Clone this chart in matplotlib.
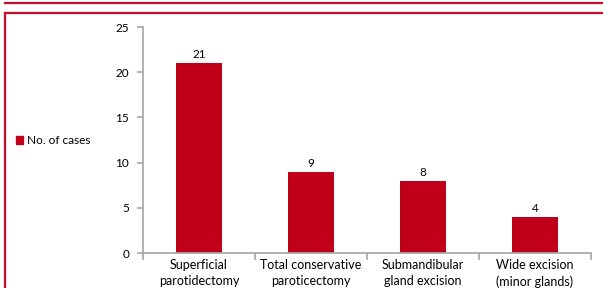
import numpy as np
from matplotlib import pyplot as plt
from matplotlib.lines import Line2D
from matplotlib.patches import Rectangle

# data
categories = ['Superficial\nparotidectomy', 'Total conservative\nparoticectomy',
              'Submandibular\ngland excision', 'Wide excision\n(minor glands)']
cases = [21, 9, 8, 4]
series_name = 'No. of cases'

bar_color = '#C00018'
frame_color = '#C8102E'
axis_color = '#A6A6A6'

plt.rcParams['font.family'] = ['Lato', 'DejaVu Sans']
plt.rcParams['font.size'] = 8

fig = plt.figure(figsize=(6.03, 2.88), dpi=100)
W, H = 603, 288
ax = fig.add_axes([143 / W, 1 - 253 / H, 448 / W, (253 - 27) / H])

index = np.arange(len(cases))
ax.bar(index, cases, 0.41, color=bar_color)
for i, v in zip(index, cases):
    ax.text(i, v + 0.3, str(v), ha='center', va='bottom', fontsize=8.5)

ax.set_xlim(-0.5, len(cases) - 0.5)
ax.set_ylim(0, 25)
ax.set_yticks([0, 5, 10, 15, 20, 25])
ax.set_xticks(index)
ax.set_xticklabels(categories, linespacing=1.45, fontsize=9)
ax.set_xticks(np.arange(len(cases) + 1) - 0.5, minor=True)
ax.tick_params(axis='x', which='major', length=0, pad=4)
ax.tick_params(axis='x', which='minor', length=5, color=axis_color, width=1.2)
ax.tick_params(axis='y', length=4, color=axis_color, width=1.2, pad=6, labelsize=8.5)

for s in ['top', 'right']:
    ax.spines[s].set_visible(False)
for s in ['left', 'bottom']:
    ax.spines[s].set_color(axis_color)
    ax.spines[s].set_linewidth(1.2)

# legend
fig.patches.append(Rectangle((16 / W, 1 - 144 / H), 7 / W, 8 / H,
                             transform=fig.transFigure, color=bar_color))
fig.text(27 / W, 1 - 140 / H, series_name, va='center', ha='left', fontsize=8.5)

# red frame
fig.add_artist(Line2D([5 / W, 1], [1 - 3 / H, 1 - 3 / H], color=frame_color, lw=1.6))
fig.add_artist(Line2D([4.5 / W, 1], [1 - 13 / H, 1 - 13 / H], color=frame_color, lw=1.6))
fig.add_artist(Line2D([4.5 / W, 4.5 / W], [1 - 13 / H, 0], color=frame_color, lw=1.6))

fig.savefig('out.png', dpi=100)
